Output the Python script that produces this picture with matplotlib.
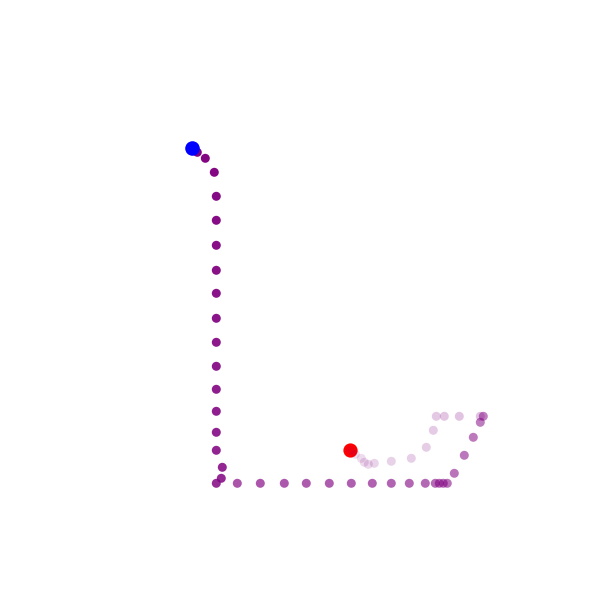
import matplotlib
matplotlib.use("Agg")
import matplotlib.pyplot as plt
import numpy as np

# Trajectory points (in data units; y up)
x_vals = [-2.4, -1.9, -1.1, -0.2, 0.0, 0.0, 0.0, 0.0, 0.0, 0.0, 0.0, 0.0, 0.0,
          0.0, 0.0, 0.0, 0.6, 0.5, 0.0, 2.1, 4.4, 6.8, 9.0, 11.3, 13.5, 15.6,
          17.5, 19.3, 20.9, 21.9, 22.3, 22.7, 23.1, 23.8, 24.8, 25.7, 26.4,
          26.7, 26.4, 24.3, 22.8, 22.0, 21.7, 21.0, 19.5, 17.5, 15.8, 15.2,
          14.8, 14.5, 13.9, 13.4]
y_vals = [33.5, 33.1, 32.5, 31.1, 28.7, 26.3, 23.8, 21.3, 19.0, 16.5, 14.1,
          11.7, 9.4, 7.2, 5.1, 3.3, 1.6, 0.5, 0.0, 0.0, 0.0, 0.0, 0.0, 0.0,
          0.0, 0.0, 0.0, 0.0, 0.0, 0.0, 0.0, 0.0, 0.0, 1.0, 2.8, 4.6, 6.1,
          6.7, 6.7, 6.7, 6.7, 6.7, 5.3, 3.6, 2.5, 2.2, 2.0, 1.9, 2.1, 2.5,
          2.9, 3.3]
# Frame (time) of each point; pauses at the corner and at the upper-right turn
t_vals = [0, 1, 2, 3, 4, 5, 6, 7, 8, 9, 10, 11, 12, 13, 14, 15, 16, 17, 18,
          35, 36, 37, 38, 39, 40, 41, 42, 43, 44, 45, 46, 47, 48, 49, 50, 51,
          52, 53, 81, 82, 83, 84, 85, 86, 87, 88, 89, 90, 91, 92, 93, 94]

start_point = (-2.4, 33.5)
end_point = (13.4, 3.3)

fig = plt.figure(figsize=(5.99, 5.99), dpi=100)
ax = fig.add_axes([0, 0, 1, 1])

t = np.asarray(t_vals, dtype=float)
alphas = 1.0 - 0.88 * t / t.max()
colors = [(128/255, 0, 128/255, a) for a in alphas]

ax.scatter([end_point[0]], [end_point[1]], s=105, color="red", zorder=2,
           linewidths=0)
ax.scatter(x_vals, y_vals, s=42, c=colors, zorder=3, linewidths=0)
ax.scatter([start_point[0]], [start_point[1]], s=110, color="blue", zorder=4,
           linewidths=0)

ax.set_xlim(-21.63, 38.27)
ax.set_ylim(-11.57, 48.33)
ax.axis("off")

fig.savefig("out.png", dpi=100)
